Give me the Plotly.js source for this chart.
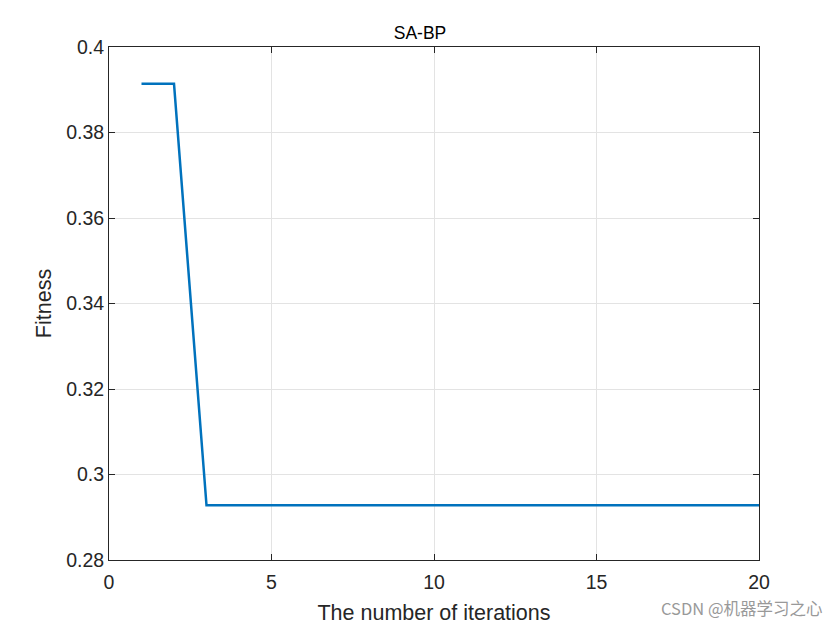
<!DOCTYPE html>
<html>
<head>
<meta charset="utf-8">
<script src="https://cdn.plot.ly/plotly-3.0.1.min.js"></script>
<style>html,body{margin:0;padding:0;background:#fff;}#chart{width:840px;height:630px;}</style>
</head>
<body>
<div id="chart"></div>
<script>
const iterations = [1,2,3,4,5,6,7,8,9,10,11,12,13,14,15,16,17,18,19,20];
const fitness = [0.3914,0.3914,0.2928,0.2928,0.2928,0.2928,0.2928,0.2928,0.2928,0.2928,0.2928,0.2928,0.2928,0.2928,0.2928,0.2928,0.2928,0.2928,0.2928,0.2928];
const xTicks = [0,5,10,15,20];
const yTicks = [0.28,0.3,0.32,0.34,0.36,0.38,0.4];
const yTickText = ['0.28','0.3','0.32','0.34','0.36','0.38','0.4'];

const fontFam = 'Liberation Sans, Arial, sans-serif';
const trace = {
  x: iterations, y: fitness, type: 'scatter', mode: 'lines',
  line: {color: '#0072BD', width: 2.5}, showlegend: false
};
const axisCommon = {
  showline: true, linecolor: '#262626', linewidth: 1, mirror: 'ticks',
  ticks: 'inside', ticklen: 6, tickcolor: '#262626',
  showgrid: true, gridcolor: '#e3e3e3', gridwidth: 1, zeroline: false,
  tickfont: {family: fontFam, size: 19.5, color: '#262626'}
};
const layout = {
  width: 840, height: 630,
  margin: {l: 109, r: 81, t: 47, b: 70},
  paper_bgcolor: '#fff', plot_bgcolor: '#fff',
  title: {text: 'SA-BP', font: {family: fontFam, size: 17.5, color: '#000'}, x: 0.5, xanchor: 'center', y: 0.948, yanchor: 'middle'},
  xaxis: Object.assign({}, axisCommon, {
    range: [0, 20], tickvals: xTicks, ticklabelstandoff: 5,
    title: {text: 'The number of iterations', font: {family: fontFam, size: 21.5, color: '#262626'}, standoff: 12}
  }),
  yaxis: Object.assign({}, axisCommon, {
    range: [0.28, 0.4], tickvals: yTicks, ticktext: yTickText,
    title: {text: 'Fitness', font: {family: fontFam, size: 21.5, color: '#262626'}, standoff: 8}
  }),
  annotations: [{
    text: 'CSDN @机器学习之心', xref: 'paper', yref: 'paper', x: 1.102, y: -0.093,
    xanchor: 'right', yanchor: 'middle', showarrow: false,
    font: {family: 'Noto Sans CJK SC, sans-serif', size: 16.5, color: '#999'}
  }]
};
Plotly.newPlot('chart', [trace], layout, {displayModeBar: false, staticPlot: true});
</script>
</body>
</html>
